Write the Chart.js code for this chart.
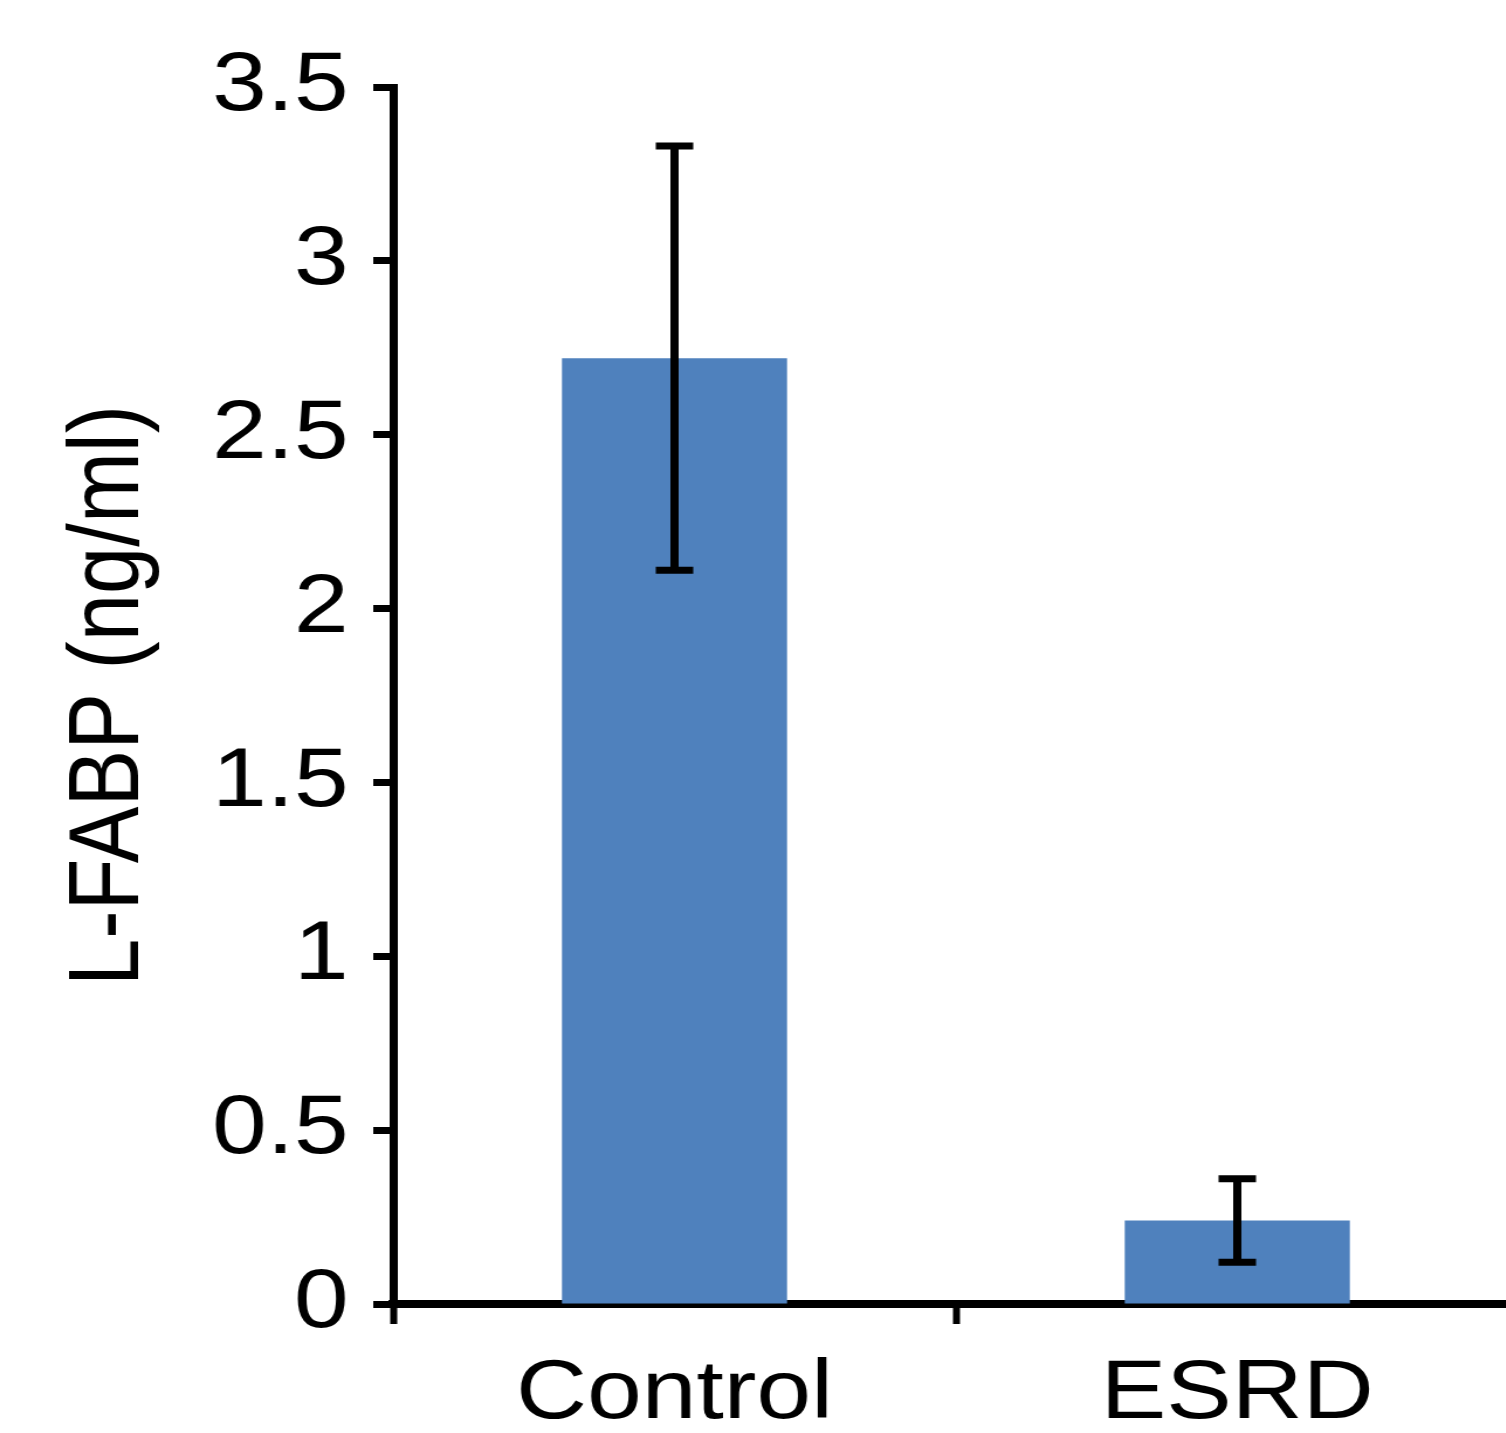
<!DOCTYPE html>
<html>
<head>
<meta charset="utf-8">
<script src="https://cdn.jsdelivr.net/npm/chart.js@4.4.1/dist/chart.umd.min.js"></script>
<style>
  html, body { margin: 0; padding: 0; background: #fff; }
  #wrap { width: 1506px; height: 1433px; overflow: hidden; position: relative; }
  /* the original figure is stretched sideways, so stretch the canvas the same way */
  #chart { position: absolute; left: 0; top: 0; transform: scaleX(1.17); transform-origin: 0 0; }
</style>
</head>
<body>
<div id="wrap"><canvas id="chart" width="1298" height="1466"></canvas></div>
<script>
const categories = ['Control', 'ESRD'];
const means = [2.72, 0.24];
const errors = [0.61, 0.12];
const yTicks = [0, 0.5, 1, 1.5, 2, 2.5, 3, 3.5];
const yTitle = 'L-FABP (ng/ml)';

const fontFamily = '"Liberation Sans", Arial, sans-serif';

// error bars, placed with the chart's own scales
const errorBars = {
    id: 'errorBars',
    afterDatasetsDraw(chart) {
        const ctx = chart.ctx;
        const xs = chart.scales.x;
        const ys = chart.scales.y;
        ctx.save();
        ctx.strokeStyle = '#000';
        ctx.lineWidth = 7;
        means.forEach((m, i) => {
            const px = xs.getPixelForValue(i);
            const top = ys.getPixelForValue(m + errors[i]);
            const bot = ys.getPixelForValue(m - errors[i]);
            ctx.beginPath();
            ctx.moveTo(px, top);
            ctx.lineTo(px, bot);
            ctx.moveTo(px - 16, top);
            ctx.lineTo(px + 16, top);
            ctx.moveTo(px - 16, bot);
            ctx.lineTo(px + 16, bot);
            ctx.stroke();
        });
        ctx.restore();
    }
};

new Chart(document.getElementById('chart'), {
    type: 'bar',
    data: {
        labels: categories,
        datasets: [{
            data: means,
            backgroundColor: '#4F81BD',
            barPercentage: 0.4,
            categoryPercentage: 1
        }]
    },
    options: {
        responsive: false,
        animation: false,
        layout: { padding: { top: 87, left: 0, right: 0, bottom: 0 } },
        plugins: {
            legend: { display: false },
            tooltip: { enabled: false }
        },
        scales: {
            x: {
                z: 1,
                grid: { drawOnChartArea: false, tickLength: 20, tickWidth: 6, tickColor: '#000', offset: true },
                border: { color: '#000', width: 8 },
                ticks: {
                    color: '#000',
                    font: { family: fontFamily, size: 84, lineHeight: 1 },
                    padding: 29,
                    maxRotation: 0
                }
            },
            y: {
                min: 0,
                max: 3.5,
                afterBuildTicks: s => { s.ticks = yTicks.map(v => ({ value: v })); },
                afterFit: s => { s.width = 336; },
                grid: { drawOnChartArea: false, tickLength: 17, tickWidth: 7, tickColor: '#000' },
                border: { color: '#000', width: 7 },
                ticks: {
                    color: '#000',
                    font: { family: fontFamily, size: 84, lineHeight: 1 },
                    padding: 21,
                    callback: v => String(v)
                },
                title: {
                    display: true,
                    text: yTitle,
                    color: '#000',
                    font: { family: fontFamily, size: 85, lineHeight: 1 },
                    padding: { top: 52, bottom: 0 }
                }
            }
        }
    },
    plugins: [errorBars]
});
</script>
</body>
</html>
